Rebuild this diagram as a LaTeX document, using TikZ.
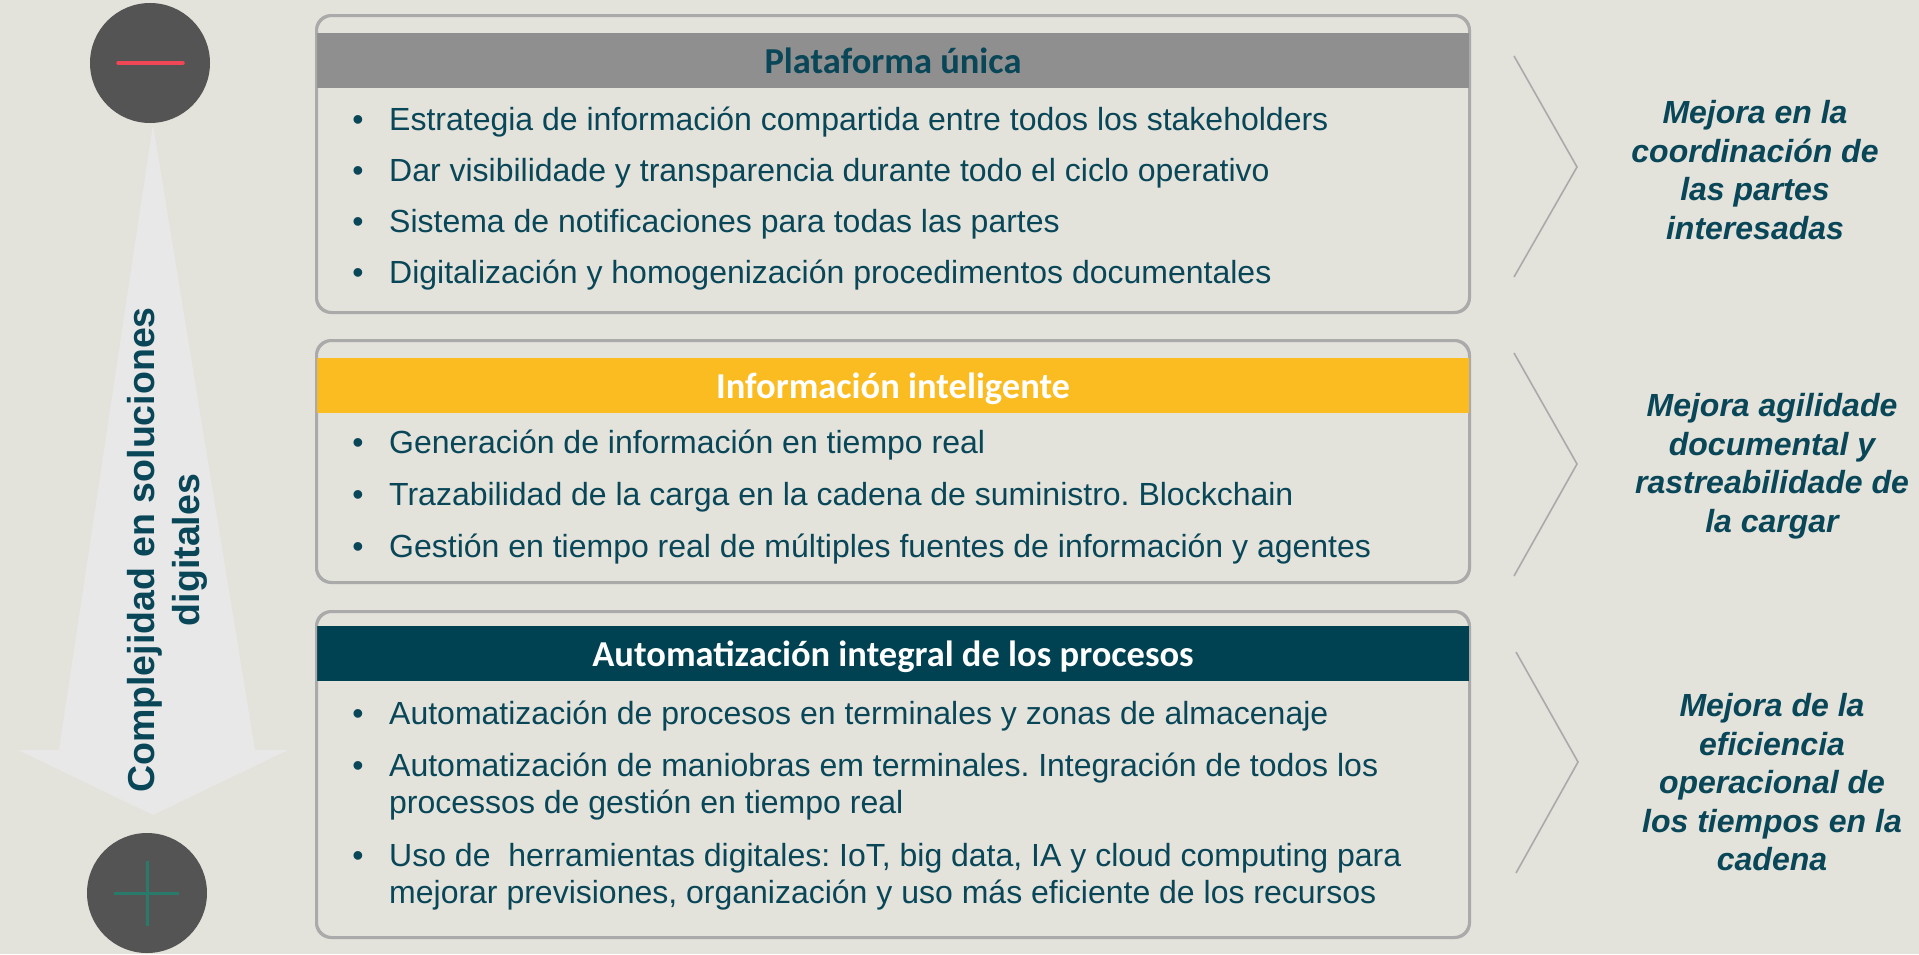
\documentclass[tikz,border=0pt]{standalone}
\usepackage{fontspec}
\setmainfont{Liberation Sans}
\newfontfamily\hdrfont{Carlito}
\frenchspacing
\definecolor{bgc}{RGB}{227,226,219}
\definecolor{txt}{RGB}{8,70,88}
\definecolor{dteal}{RGB}{0,65,82}
\definecolor{ylw}{RGB}{251,188,34}
\definecolor{hgray}{RGB}{143,143,143}
\definecolor{bord}{RGB}{170,170,170}
\definecolor{arrc}{RGB}{232,232,232}
\definecolor{circc}{RGB}{84,84,84}
\definecolor{minusred}{RGB}{240,70,85}
\definecolor{plusgreen}{RGB}{42,122,108}
\begin{document}
\begin{tikzpicture}[x=1pt,y=-1pt,
  panel/.style={draw=bord, line width=2pt, fill=bgc, rounded corners=15pt, minimum width=1152pt, inner sep=0pt},
  hdrbar/.style={minimum width=1152pt, minimum height=55pt, inner sep=0pt, text height=30pt, text depth=5pt,
    font=\hdrfont\fontsize{36.5}{40}\selectfont\bfseries},
  bul/.style={anchor=base, inner sep=0pt, text=txt, font=\fontsize{32}{38}\selectfont},
  item/.style={anchor=base west, inner sep=0pt, text=txt, font=\fontsize{32}{38}\selectfont},
  res/.style={align=center, inner sep=0pt, text=txt, font=\fontsize{32}{38.5}\selectfont\bfseries\itshape},
  chev/.style={draw=bord, line width=1.6pt},
  disc/.style={circle, fill=circc, minimum size=120pt, inner sep=0pt}
]
\useasboundingbox (0,0) rectangle (1919,954);
\fill[bgc] (0,0) rectangle (1919,954);

% big arrow
\fill[arrc] (153,124) -- (255,750) -- (288,750) -- (153,815) -- (18,750) -- (59,750) -- cycle;
\node[rotate=90, align=center, inner sep=0pt, text=txt, font=\fontsize{37.5}{45}\selectfont\bfseries] (vt) at (167,550) {Complejidad en soluciones\\digitales};

% circles
\node[disc] (cminus) at (150,63) {};
\draw[minusred, line width=3.5pt, line cap=round] ([xshift=-32pt]cminus.center) -- ([xshift=33pt]cminus.center);
\node[disc] (cplus) at (147,893) {};
\draw[plusgreen, line width=3pt] ([xshift=-33pt]cplus.center) -- ([xshift=32pt]cplus.center);
\draw[plusgreen, line width=3pt] ([yshift=32pt]cplus.center) -- ([yshift=-33pt]cplus.center);

% panel 1
\node[panel, minimum height=296pt] (p1) at (893,164) {};
\node[hdrbar, fill=hgray, text=txt] (h1) at (893,60.5) {Plataforma única};
\draw[bord, line width=2pt, rounded corners=15pt] (p1.north west) rectangle (p1.south east);
\node[bul] (b11) at (358,130) {•};
\node[item] (t11) at (389,130) {Estrategia de información compartida entre todos los stakeholders};
\node[bul] (b12) at (358,181) {•};
\node[item] (t12) at (389,181) {Dar visibilidade y transparencia durante todo el ciclo operativo};
\node[bul] (b13) at (358,232) {•};
\node[item] (t13) at (389,232) {Sistema de notificaciones para todas las partes};
\node[bul] (b14) at (358,283) {•};
\node[item] (t14) at (389,283) {Digitalización y homogenización procedimentos documentales};

% panel 2
\node[panel, minimum height=241pt] (p2) at (893,461.5) {};
\node[hdrbar, fill=ylw, text=white] (h2) at (893,385.5) {Información inteligente};
\draw[bord, line width=2pt, rounded corners=15pt] (p2.north west) rectangle (p2.south east);
\node[bul] (b21) at (358,453) {•};
\node[item] (t21) at (389,453) {Generación de información en tiempo real};
\node[bul] (b22) at (358,505) {•};
\node[item] (t22) at (389,505) {Trazabilidad de la carga en la cadena de suministro. Blockchain};
\node[bul] (b23) at (358,557) {•};
\node[item] (t23) at (389,557) {Gestión en tiempo real de múltiples fuentes de información y agentes};

% panel 3
\node[panel, minimum height=325pt] (p3) at (893,774.5) {};
\node[hdrbar, fill=dteal, text=white] (h3) at (893,653.5) {Automatización integral de los procesos};
\draw[bord, line width=2pt, rounded corners=15pt] (p3.north west) rectangle (p3.south east);
\node[bul] (b31) at (358,724) {•};
\node[item] (t31) at (389,724) {Automatización de procesos en terminales y zonas de almacenaje};
\node[bul] (b32) at (358,776) {•};
\node[item] (t32) at (389,776) {Automatización de maniobras em terminales. Integración de todos los};
\node[item] (t32b) at (389,813) {processos de gestión en tiempo real};
\node[bul] (b33) at (358,866) {•};
\node[item] (t33) at (389,866) {Uso de~ herramientas digitales: IoT, big data, IA y cloud computing para};
\node[item] (t33b) at (389,903) {mejorar previsiones, organización y uso más eficiente de los recursos};

% chevrons
\coordinate (c1a) at (1514,56); \coordinate (c1b) at (1577,167); \coordinate (c1c) at (1514,277);
\draw[chev] (c1a) -- (c1b) -- (c1c);
\coordinate (c2a) at (1514,353); \coordinate (c2b) at (1577,464); \coordinate (c2c) at (1514,576);
\draw[chev] (c2a) -- (c2b) -- (c2c);
\coordinate (c3a) at (1516,652); \coordinate (c3b) at (1578,762); \coordinate (c3c) at (1516,873);
\draw[chev] (c3a) -- (c3b) -- (c3c);

% results
\node[res] (r1) at (1755,170) {Mejora en la\\coordinación de\\las partes\\interesadas};
\node[res] (r2) at (1772,466) {Mejora agilidade\\documental y\\rastreabilidade de\\la cargar};
\node[res] (r3) at (1772,782.5) {Mejora de la\\eficiencia\\operacional de\\los tiempos en la\\cadena};
\end{tikzpicture}
\end{document}
